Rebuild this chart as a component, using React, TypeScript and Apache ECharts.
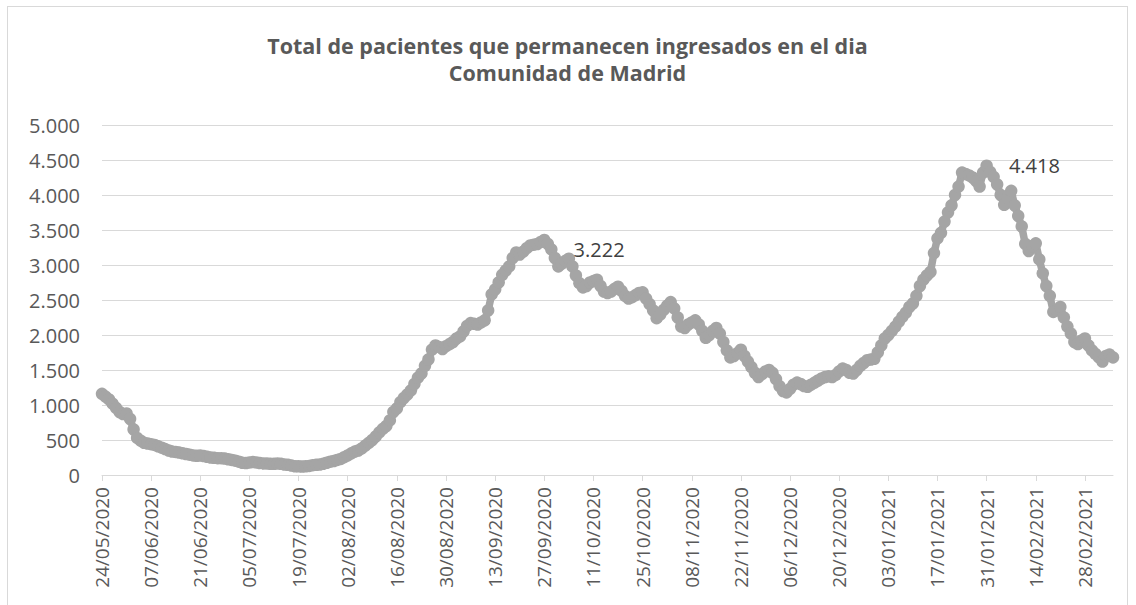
import React, { useEffect, useRef } from "react";
import * as echarts from "echarts";

const START_DATE = "2020-05-24";
const DAY_COUNT = 289;

const titleLines = [
  "Total de pacientes que permanecen ingresados en el dia",
  "Comunidad de Madrid",
];

const yTicks = [0, 500, 1000, 1500, 2000, 2500, 3000, 3500, 4000, 4500, 5000];

// Pacientes ingresados, one value per day from 24/05/2020
const ingresados: number[] = [
  1160, 1120, 1080, 1020, 960, 900, 870, 880, 800, 650, 530, 490, 460, 450,
  440, 430, 410, 390, 370, 350, 335, 330, 320, 310, 300, 290, 280, 275,
  280, 270, 260, 250, 245, 240, 240, 235, 225, 215, 205, 190, 175, 170,
  180, 185, 180, 170, 165, 165, 160, 160, 165, 160, 150, 145, 135, 125,
  125, 120, 125, 130, 140, 145, 150, 160, 175, 190, 200, 215, 230, 255,
  280, 310, 335, 350, 380, 420, 460, 500, 550, 610, 660, 700, 780, 900,
  950, 1040, 1100, 1150, 1210, 1300, 1390, 1450, 1560, 1650, 1790, 1850, 1830, 1800,
  1840, 1870, 1900, 1950, 1980, 2050, 2130, 2170, 2160, 2150, 2180, 2210, 2350, 2580,
  2650, 2750, 2860, 2920, 2980, 3100, 3180, 3150, 3190, 3240, 3280, 3290, 3300, 3330,
  3357, 3300, 3222, 3100, 2980, 3020, 3060, 3090, 2980, 2850, 2740, 2680, 2700, 2750,
  2770, 2790, 2700, 2620, 2600, 2620, 2660, 2690, 2630, 2560, 2520, 2540, 2570, 2600,
  2610, 2520, 2440, 2350, 2240, 2290, 2360, 2420, 2470, 2380, 2250, 2120, 2100, 2150,
  2180, 2210, 2150, 2060, 1960, 2000, 2060, 2100, 2020, 1900, 1780, 1680, 1700, 1740,
  1790, 1700, 1620, 1540, 1460, 1400, 1440, 1480, 1500, 1460, 1370, 1270, 1200, 1180,
  1230, 1290, 1320, 1300, 1270, 1260, 1290, 1320, 1350, 1380, 1400, 1410, 1400, 1430,
  1480, 1520, 1500, 1460, 1450, 1500, 1560, 1600, 1640, 1650, 1660, 1750, 1850, 1950,
  2000, 2060, 2120, 2190, 2260, 2320, 2400, 2450, 2560, 2700, 2790, 2850, 2900, 3170,
  3380, 3460, 3620, 3750, 3850, 4000, 4120, 4320, 4300, 4280, 4250, 4200, 4120, 4320,
  4418, 4330, 4260, 4150, 4000, 3860, 3960, 4060, 3850, 3700, 3550, 3300, 3200, 3270,
  3310, 3080, 2880, 2700, 2560, 2330, 2350, 2400, 2250, 2120, 2020, 1900, 1870, 1920,
  1950, 1850, 1780, 1730, 1680, 1620, 1700, 1720, 1680,
];

// indices of the points that carry a data label
const labelledPoints = [128, 252];

function buildDates(): string[] {
  const out: string[] = [];
  const d0 = new Date(START_DATE + "T00:00:00Z").getTime();
  for (let i = 0; i < DAY_COUNT; i++) {
    const d = new Date(d0 + i * 86400000);
    const dd = String(d.getUTCDate()).padStart(2, "0");
    const mm = String(d.getUTCMonth() + 1).padStart(2, "0");
    out.push(`${dd}/${mm}/${d.getUTCFullYear()}`);
  }
  return out;
}

const fmt = (v: number) =>
  String(Math.round(v)).replace(/\B(?=(\d{3})+(?!\d))/g, ".");

const FONT = "'Open Sans', 'Liberation Sans', sans-serif";

export default function App() {
  const ref = useRef<HTMLDivElement>(null);

  useEffect(() => {
    if (!ref.current) return;
    const chart = echarts.init(ref.current, undefined, { renderer: "svg" });
    const dates = buildDates();
    const seriesData = ingresados.map((v, i) =>
      labelledPoints.includes(i)
        ? {
            value: v,
            label: {
              show: true,
              position: "right",
              distance: 16,
              formatter: (p: any) => fmt(p.value),
              color: "#404040",
              fontSize: 20,
              fontFamily: FONT,
            },
          }
        : v
    );

    chart.setOption({
      animation: false,
      backgroundColor: "#ffffff",
      graphic: titleLines.map((t, k) => ({
        type: "text",
        x: 559.5,
        y: 38 + k * 27,
        style: {
          text: t,
          fill: "#595959",
          font: `bold 21.5px ${FONT}`,
          textAlign: "center",
          textVerticalAlign: "middle",
        },
      })),
      grid: { left: 94, top: 118, width: 1011, height: 350 },
      xAxis: {
        type: "category",
        data: dates,
        boundaryGap: false,
        axisLine: { show: true, lineStyle: { color: "#d9d9d9", width: 1 } },
        axisTick: {
          show: true,
          interval: 13,
          length: 6,
          lineStyle: { color: "#d9d9d9" },
        },
        axisLabel: {
          interval: 13,
          rotate: 90,
          margin: 12,
          color: "#595959",
          fontSize: 19,
          fontFamily: FONT,
        },
        splitLine: { show: false },
      },
      yAxis: {
        type: "value",
        min: yTicks[0],
        max: yTicks[yTicks.length - 1],
        interval: 500,
        axisLine: { show: false },
        axisTick: { show: false },
        axisLabel: {
          color: "#595959",
          fontSize: 20,
          fontFamily: FONT,
          margin: 22,
          formatter: (v: number) => fmt(v),
        },
        splitLine: { show: true, lineStyle: { color: "#d9d9d9", width: 1 } },
      },
      series: [
        {
          type: "line",
          data: seriesData,
          symbol: "circle",
          symbolSize: 12.5,
          showAllSymbol: true,
          lineStyle: { color: "#a5a5a5", width: 7.5 },
          itemStyle: { color: "#a5a5a5" },
          label: { show: false },
        },
      ],
    });
    return () => chart.dispose();
  }, []);

  return (
    <div
      style={{
        position: "fixed",
        left: 7,
        top: 6,
        width: 1119,
        height: 620,
        border: "1px solid #d9d9d9",
        background: "#fff",
      }}
    >
      <div ref={ref} style={{ width: 1119, height: 620 }} />
    </div>
  );
}
